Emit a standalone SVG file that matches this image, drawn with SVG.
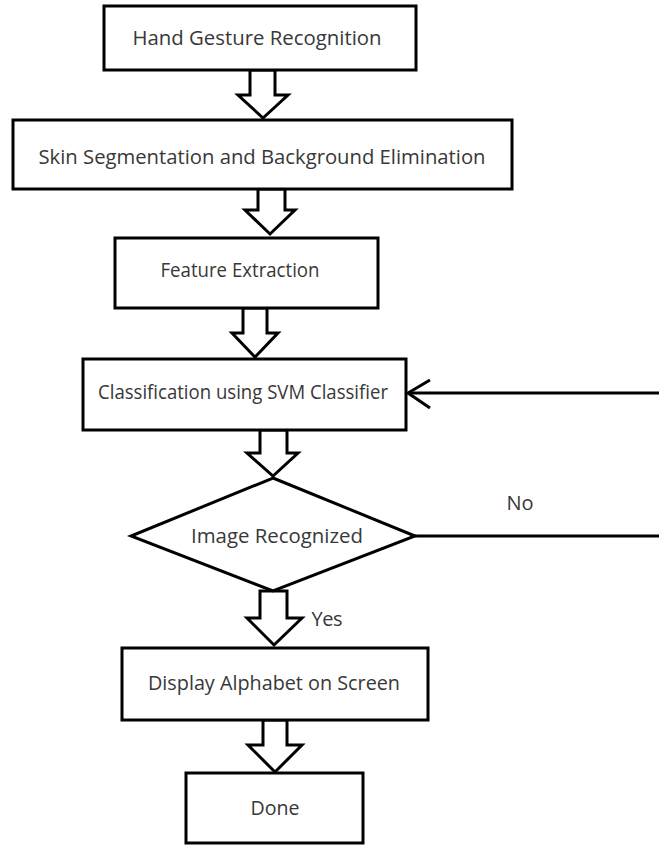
<svg xmlns="http://www.w3.org/2000/svg" width="659" height="845" viewBox="0 0 659 845">
  <style>
    .box { fill: #ffffff; stroke: #000000; stroke-width: 3; }
    .blk { fill: #ffffff; stroke: #000000; stroke-width: 3; stroke-linejoin: miter; }
    .ln { fill: none; stroke: #000000; stroke-width: 3; }
    .lbl { font-family: "Open Sans", "Noto Sans", sans-serif; font-size: 20px; fill: #383838; text-anchor: middle; dominant-baseline: central; }
  </style>
  <rect width="659" height="845" fill="#ffffff"/>

  <!-- connectors: hollow block arrows and the "No" loop -->
  <g id="connectors">
    <polygon class="blk" points="250,70 250,95 238,95 263,118 288,95 275,95 275,70"/>
    <polygon class="blk" points="258,189 258,210 245,210 270,234 295,210 285,210 285,189"/>
    <polygon class="blk" points="243,308 243,333 232,333 255,357 278,333 267,333 267,308"/>
    <polygon class="blk" points="260,430 260,453 247,453 273,476 298,453 287,453 287,430"/>
    <polygon class="blk" points="260,591 260,618 247,618 274,645 302,618 287,618 287,591"/>
    <polygon class="blk" points="263,720 263,745 248,745 275,772 302,745 287,745 287,720"/>
    <polyline class="ln" points="415,536 659,536"/>
    <polyline class="ln" points="659,393 408,393"/>
    <polyline class="ln" points="430,380 408,393 430,408"/>
    <text class="lbl" x="520" y="502" textLength="27">No</text>
    <text class="lbl" x="327" y="618" textLength="31">Yes</text>
  </g>

  <g id="hand-gesture">
    <rect class="box" x="104" y="6" width="312" height="64"/>
    <text class="lbl" x="257" y="37" textLength="249" lengthAdjust="spacingAndGlyphs">Hand Gesture Recognition</text>
  </g>

  <g id="skin-segmentation">
    <rect class="box" x="13" y="120" width="499" height="69"/>
    <text class="lbl" x="262" y="156" textLength="447" lengthAdjust="spacingAndGlyphs">Skin Segmentation and Background Elimination</text>
  </g>

  <g id="feature-extraction">
    <rect class="box" x="115" y="238" width="263" height="70"/>
    <text class="lbl" x="240" y="269" textLength="159" lengthAdjust="spacingAndGlyphs">Feature Extraction</text>
  </g>

  <g id="classification">
    <rect class="box" x="83" y="359" width="323" height="71"/>
    <text class="lbl" x="243" y="391" textLength="290" lengthAdjust="spacingAndGlyphs">Classification using SVM Classifier</text>
  </g>

  <g id="image-recognized">
    <polygon class="box" points="273,478 415,536 273,591 131,536"/>
    <text class="lbl" x="277" y="535" textLength="172" lengthAdjust="spacingAndGlyphs">Image Recognized</text>
  </g>

  <g id="display-alphabet">
    <rect class="box" x="122" y="648" width="306" height="72"/>
    <text class="lbl" x="274" y="682" textLength="252" lengthAdjust="spacingAndGlyphs">Display Alphabet on Screen</text>
  </g>

  <g id="done">
    <rect class="box" x="186" y="773" width="177" height="70"/>
    <text class="lbl" x="275" y="807" textLength="49" lengthAdjust="spacingAndGlyphs">Done</text>
  </g>
</svg>
